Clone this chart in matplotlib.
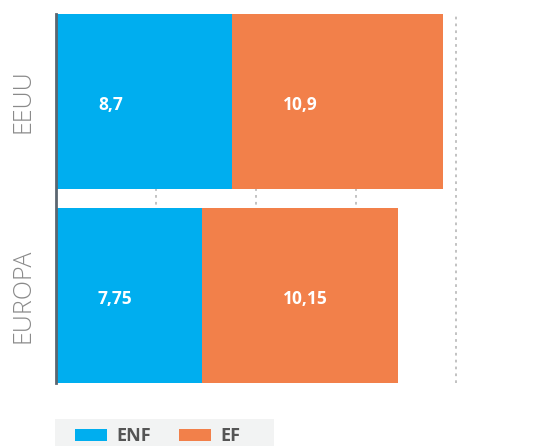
import matplotlib
matplotlib.use("Agg")
import matplotlib.pyplot as plt
from matplotlib.patches import Rectangle
from matplotlib.transforms import offset_copy

# Data
categories = ["EUROPA", "EEUU"]
series_names = ["ENF", "EF"]
enf_values = [7.3, 8.8]
ef_values = [9.8, 10.55]
enf_labels = ["7,75", "8,7"]
ef_labels = ["10,15", "10,9"]
grid_ticks = [5, 10, 15, 20]

BLUE = "#00AEEF"
ORANGE = "#F2804A"

W, H = 548, 446
fig = plt.figure(figsize=(W / 100, H / 100), dpi=100)
ax = fig.add_axes([56 / W, 1 - 382.7 / H, 480 / W, 368.7 / H])

ypos = list(range(len(categories)))
ax.barh(ypos, enf_values, height=0.9, color=BLUE, zorder=3, label=series_names[0])
ax.barh(ypos, ef_values, left=enf_values, height=0.9, color=ORANGE, zorder=3,
        label=series_names[1])

ax.set_xlim(0, 24)
ax.set_ylim(-0.45, 1.45)

for g in grid_ticks:
    ax.axvline(g, color="#bdbdbd", lw=1.3, linestyle=(0, (1.5, 2.3)), zorder=1)

for sp in ["top", "right", "bottom"]:
    ax.spines[sp].set_visible(False)
ax.spines["left"].set_color("#5b6670")
ax.spines["left"].set_linewidth(2)
ax.spines["left"].set_zorder(5)
ax.set_xticks([])
ax.set_yticks([])

font_bold = dict(family=["Open Sans", "DejaVu Sans"], weight="bold")
enf_label_x = 2.1
ef_label_x = 11.37
lab_tr = offset_copy(ax.transData, fig=fig, x=0, y=-6.3, units="points")
for y, lab in zip(ypos, enf_labels):
    ax.text(enf_label_x, y, lab, color="white", fontsize=12.5, ha="left", va="baseline",
            zorder=6, transform=lab_tr, **font_bold)
for y, lab in zip(ypos, ef_labels):
    ax.text(ef_label_x, y, lab, color="white", fontsize=12.5, ha="left", va="baseline",
            zorder=6, transform=lab_tr, **font_bold)

for y, cat in zip(ypos, categories):
    fig.text(23.5 / W, ax.transData.transform((0, y))[1] / H, cat, rotation=90,
             ha="center", va="center", fontsize=18, color="#8a8a8a",
             family=["Open Sans", "DejaVu Sans"], weight="light")

fig.patches.append(Rectangle((55 / W, 0), 219 / W, 27 / H, transform=fig.transFigure,
                             facecolor="#f2f3f3", edgecolor="none", zorder=0))
handles, labels = ax.get_legend_handles_labels()
leg = fig.legend(handles, labels, loc="center left", bbox_to_anchor=(75 / W, 1 - 436 / H),
                 ncol=2, frameon=False, borderpad=0, borderaxespad=0,
                 handlelength=1.75, handleheight=0.66, handletextpad=0.55,
                 columnspacing=1.55, prop=dict(family=["Open Sans", "DejaVu Sans"],
                                               weight="bold", size=13))
for t in leg.get_texts():
    t.set_color("#555555")

fig.savefig("out.png", dpi=100)
